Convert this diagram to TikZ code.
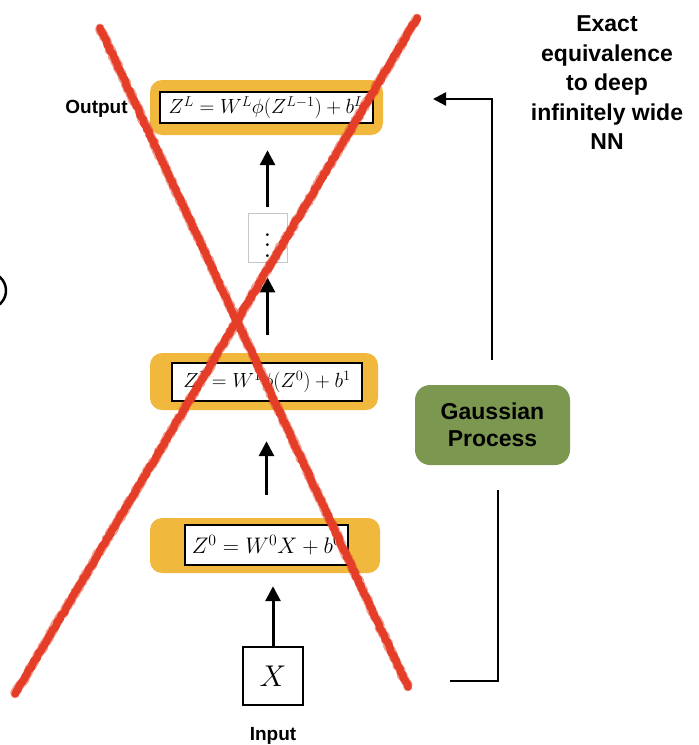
\RequirePackage{fix-cm}
\documentclass[tikz,border=0pt]{standalone}
\usepackage{fontspec}
\setsansfont{Liberation Sans}
\usetikzlibrary{arrows.meta,decorations.pathmorphing}
\definecolor{layerorange}{RGB}{240,184,60}
\definecolor{gpgreen}{RGB}{124,152,80}
\definecolor{xred}{RGB}{228,62,40}
\begin{document}
\begin{tikzpicture}[x=1pt,y=-1pt,
  layer/.style={fill=layerorange, rounded corners=12pt, inner sep=0pt},
  eqbox/.style={draw=black, line width=2pt, fill=white, inner sep=0pt},
  lbl/.style={font=\sffamily\bfseries\fontsize{19}{22}\selectfont, inner sep=0pt},
  uparr/.style={line width=3pt, -{Triangle[length=15pt,width=15pt]}},
  conn/.style={line width=2.5pt},
  redx/.style={draw=xred, line width=7.5pt, line cap=round, line join=round,
    decorate, decoration={random steps, segment length=2pt, amplitude=0.8pt}},
  redfuzz/.style={draw=xred, opacity=0.5, line width=9pt, line cap=round, line join=round,
    decorate, decoration={random steps, segment length=1.5pt, amplitude=1.2pt}}
]
\useasboundingbox (0,0) rectangle (699,745);

% layers
\node[layer, minimum width=233pt, minimum height=55pt] (outL) at (266.5,107.5) {};
\node[eqbox, minimum width=213pt, minimum height=31pt, font=\fontsize{20.5}{23}\selectfont] (eqL) at (266.5,107.5) {$Z^L = W^L\phi(Z^{L-1}) + b^L$};

\node[draw=gray!45, line width=0.8pt, fill=white, minimum width=39pt, minimum height=49pt, inner sep=0pt] (dots) at (267.5,237.5) {\scalebox{2.6}{$\vdots$}};

\node[layer, minimum width=228pt, minimum height=57pt] (L1) at (264,381.5) {};
\node[eqbox, minimum width=190pt, minimum height=38pt, font=\fontsize{20.5}{23}\selectfont] (eq1) at (267,382) {$Z^1 = W^1\phi(Z^0) + b^1$};

\node[layer, minimum width=230pt, minimum height=55pt] (L0) at (265,545.5) {};
\node[eqbox, minimum width=163pt, minimum height=40pt, font=\fontsize{22.5}{25}\selectfont] (eq0) at (266.5,545) {$Z^0 = W^0X + b^0$};

\node[draw=black, line width=2pt, fill=white, minimum width=60pt, minimum height=58pt, inner sep=0pt, font=\fontsize{30}{34}\selectfont] (X) at (273,676) {$X$};

% labels
\node[lbl, anchor=base] (outlbl) at (96.5,113) {Output};
\node[lbl, anchor=base] (inlbl) at (273,740) {Input};

\node[font=\sffamily\bfseries\fontsize{23}{29.5}\selectfont, align=center, anchor=north, inner sep=0pt] (exact) at (607,15.5)
  {Exact\\equivalence\\to deep\\infinitely wide\\NN};

\node[fill=gpgreen, rounded corners=15pt, minimum width=155pt, minimum height=80pt, inner sep=0pt, align=center,
  font=\sffamily\bfseries\fontsize{23}{27}\selectfont] (GP) at (492.5,425) {Gaussian\\Process};

% arrows
\draw[uparr, shorten <=23pt, shorten >=31pt] (eq0.north |- L0.north) -- (eq0.north |- L1.south);
\draw[uparr, shorten <=18pt, shorten >=15pt] (L1.north -| dots.south) -- (dots.south);
\draw[uparr, shorten <=6pt, shorten >=15pt] (dots.north) -- (dots.north |- outL.south);
\draw[uparr, shorten >=13pt] (X.north) -- (X.north |- L0.south);

% right connector
\coordinate (b0) at (450,681);
\coordinate (b1) at (498,681);
\coordinate (b2) at (498,490);
\draw[conn] (b0) -- (b1) -- (b2);
\coordinate (t0) at (492,360);
\coordinate (t1) at (492,99);
\coordinate (t2) at (433,99);
\draw[conn, -{Triangle[length=13pt,width=13pt]}] (t0) -- (t1) -- (t2);

% cropped parenthesis at left edge
\draw[line width=2.5pt] (-12,290.6) ++(-60:18) arc[start angle=-60, end angle=60, radius=18];

% red cross
\coordinate (ra) at (100,28);
\coordinate (rb) at (408,687);
\coordinate (rc) at (417,18);
\coordinate (rd) at (15,694);
\draw[redfuzz] (ra) -- (rb);
\draw[redfuzz] (rc) -- (rd);
\draw[redx] (ra) -- (rb);
\draw[redx] (rc) -- (rd);
\end{tikzpicture}
\end{document}
